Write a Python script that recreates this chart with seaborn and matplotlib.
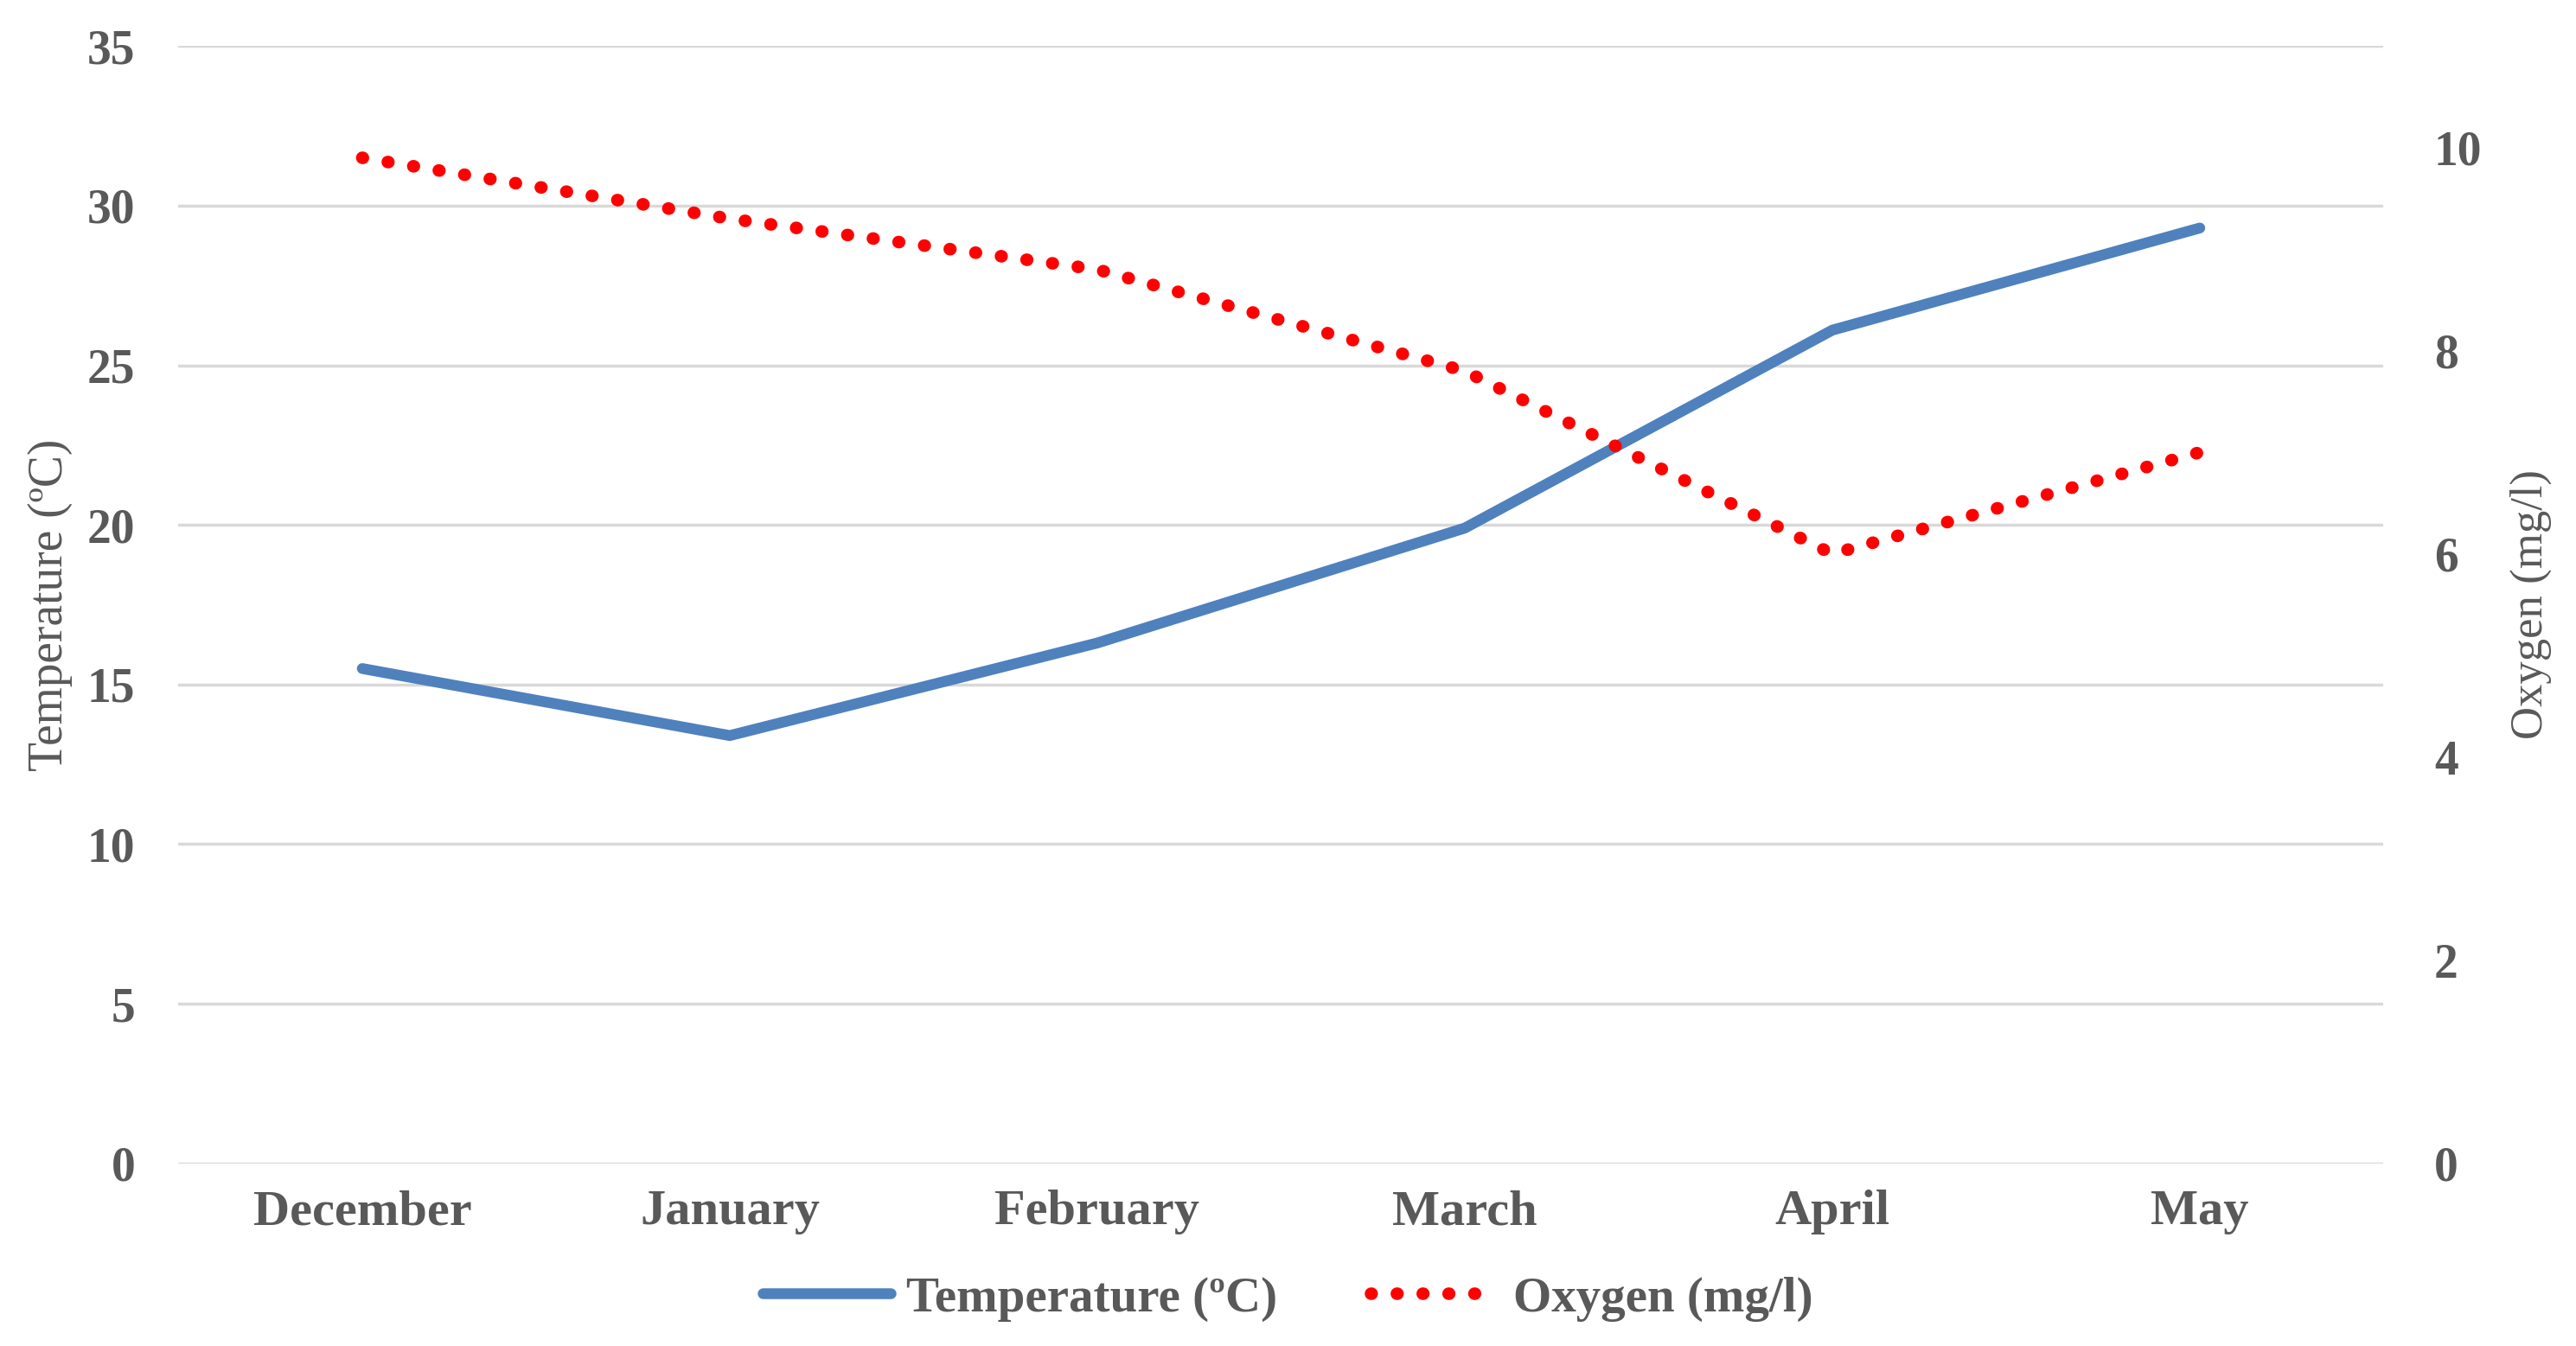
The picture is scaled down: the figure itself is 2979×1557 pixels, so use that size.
import matplotlib
matplotlib.use("Agg")
import matplotlib.pyplot as plt
import seaborn as sns
import pandas as pd

months = ["December", "January", "February", "March", "April", "May"]
temperature = [15.5, 13.4, 16.3, 19.9, 26.1, 29.3]
oxygen = [9.9, 9.3, 8.8, 7.8, 6.0, 7.0]
left_ticks = [0, 5, 10, 15, 20, 25, 30, 35]
right_ticks = [0, 2, 4, 6, 8, 10]

df = pd.DataFrame({"Month": months, "Temperature": temperature, "Oxygen": oxygen})

sns.set_theme(style="white")
plt.rcParams['font.family'] = ['Liberation Serif', 'DejaVu Serif']

GRAY = "#595959"
fig = plt.figure(figsize=(29.79, 15.57), dpi=100)
ax = fig.add_axes([0.0693, 0.1357, 0.8560, 0.8301])
ax2 = ax.twinx()

sns.lineplot(data=df, x="Month", y="Temperature", ax=ax, sort=False,
             color="#4f81bd", linewidth=9, solid_capstyle="round",
             label="Temperature (ºC)", legend=False)
sns.lineplot(data=df, x="Month", y="Oxygen", ax=ax2, sort=False,
             color="#ff0000", linewidth=10.5, label="Oxygen (mg/l)", legend=False)
for l in ax2.get_lines():
    l.set_linestyle((0, (0.05, 2.0)))
    l.set_dash_capstyle("round")

ax.set_xlim(-0.5, 5.5)
ax.set_ylim(0, 35)
ax2.set_ylim(0, 11)
ax.set_yticks(left_ticks)
ax2.set_yticks(right_ticks)
ax.grid(axis="y", color="#d9d9d9", linewidth=2.5)
ax.grid(axis="x", visible=False)
ax2.grid(False)
for a in (ax, ax2):
    for s in a.spines.values():
        s.set_visible(False)
    a.tick_params(length=0, labelsize=40, labelcolor=GRAY)
    for t in a.get_xticklabels() + a.get_yticklabels():
        t.set_fontweight("bold")
ax.tick_params(axis="x", labelsize=42, pad=22)
ax.tick_params(axis="y", pad=36)
ax2.tick_params(axis="y", pad=42)

ax.set_xlabel("")
ax.set_ylabel("Temperature (ºC)", fontsize=40, color=GRAY, labelpad=12)
ax2.set_ylabel("Oxygen (mg/l)", fontsize=38, color=GRAY, labelpad=23)

h1, l1 = ax.get_legend_handles_labels()
h2, l2 = ax2.get_legend_handles_labels()
leg = fig.legend(h1 + h2, l1 + l2, loc="center", bbox_to_anchor=(0.5, 0.035),
                 ncol=2, frameon=False, fontsize=41, handlelength=2.6,
                 columnspacing=1.9, handletextpad=0.3)
for t in leg.get_texts():
    t.set_color(GRAY)
    t.set_fontweight("bold")

fig.savefig("out.png", dpi=100, facecolor="white")
